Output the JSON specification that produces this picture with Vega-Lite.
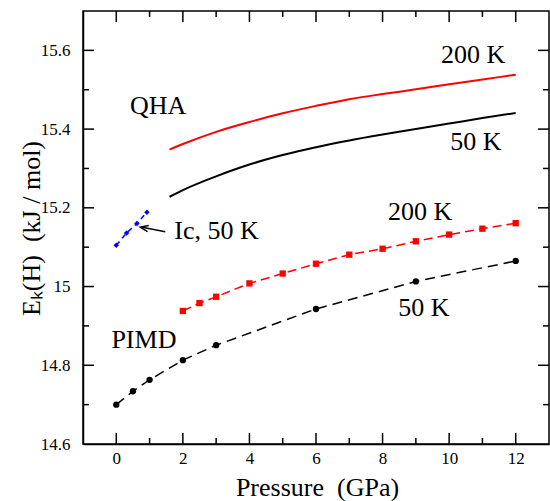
{
  "$schema": "https://vega.github.io/schema/vega-lite/v6.json",
  "background": "white",
  "padding": {"left": 17, "top": 10, "right": 0, "bottom": 0},
  "config": {
    "view": {"stroke": "black", "strokeWidth": 1.5},
    "font": "Liberation Serif",
    "axis": {
      "labelColor": "black",
      "labelFont": "Liberation Serif",
      "labelFontSize": 17,
      "labelFlush": false,
      "labelOverlap": false,
      "titleColor": "black",
      "titleFont": "Liberation Serif",
      "titleFontSize": 26,
      "titleFontWeight": "normal"
    }
  },
  "datasets": {
    "curves": [
      {"s": "QHA200", "p": 1.6, "e": 15.348},
      {"s": "QHA200", "p": 2, "e": 15.362},
      {"s": "QHA200", "p": 3, "e": 15.393},
      {"s": "QHA200", "p": 4, "e": 15.418},
      {"s": "QHA200", "p": 5, "e": 15.440},
      {"s": "QHA200", "p": 6, "e": 15.459},
      {"s": "QHA200", "p": 7, "e": 15.476},
      {"s": "QHA200", "p": 8, "e": 15.489},
      {"s": "QHA200", "p": 9, "e": 15.501},
      {"s": "QHA200", "p": 10, "e": 15.514},
      {"s": "QHA200", "p": 11, "e": 15.526},
      {"s": "QHA200", "p": 12, "e": 15.538},
      {"s": "QHA50", "p": 1.6, "e": 15.228},
      {"s": "QHA50", "p": 2, "e": 15.245},
      {"s": "QHA50", "p": 3, "e": 15.280},
      {"s": "QHA50", "p": 4, "e": 15.310},
      {"s": "QHA50", "p": 5, "e": 15.334},
      {"s": "QHA50", "p": 6, "e": 15.354},
      {"s": "QHA50", "p": 7, "e": 15.371},
      {"s": "QHA50", "p": 8, "e": 15.386},
      {"s": "QHA50", "p": 9, "e": 15.400},
      {"s": "QHA50", "p": 10, "e": 15.414},
      {"s": "QHA50", "p": 11, "e": 15.428},
      {"s": "QHA50", "p": 12, "e": 15.441},
      {"s": "PIMD50", "p": 0, "e": 14.700},
      {"s": "PIMD50", "p": 0.5, "e": 14.734},
      {"s": "PIMD50", "p": 1, "e": 14.763},
      {"s": "PIMD50", "p": 2, "e": 14.813},
      {"s": "PIMD50", "p": 3, "e": 14.851},
      {"s": "PIMD50", "p": 6, "e": 14.943},
      {"s": "PIMD50", "p": 9, "e": 15.013},
      {"s": "PIMD50", "p": 12, "e": 15.065},
      {"s": "PIMD200", "p": 2, "e": 14.938},
      {"s": "PIMD200", "p": 2.5, "e": 14.958},
      {"s": "PIMD200", "p": 3, "e": 14.974},
      {"s": "PIMD200", "p": 4, "e": 15.008},
      {"s": "PIMD200", "p": 5, "e": 15.033},
      {"s": "PIMD200", "p": 6, "e": 15.058},
      {"s": "PIMD200", "p": 7, "e": 15.081},
      {"s": "PIMD200", "p": 8, "e": 15.096},
      {"s": "PIMD200", "p": 9, "e": 15.115},
      {"s": "PIMD200", "p": 10, "e": 15.132},
      {"s": "PIMD200", "p": 11, "e": 15.147},
      {"s": "PIMD200", "p": 12, "e": 15.161},
      {"s": "Ic50", "p": 0, "e": 15.105},
      {"s": "Ic50", "p": 0.31, "e": 15.136},
      {"s": "Ic50", "p": 0.62, "e": 15.160},
      {"s": "Ic50", "p": 0.92, "e": 15.189}
    ],
    "xticks": [
      {"v": 0, "m": "major"}, {"v": 1, "m": "minor"}, {"v": 2, "m": "major"}, {"v": 3, "m": "minor"},
      {"v": 4, "m": "major"}, {"v": 5, "m": "minor"}, {"v": 6, "m": "major"}, {"v": 7, "m": "minor"},
      {"v": 8, "m": "major"}, {"v": 9, "m": "minor"}, {"v": 10, "m": "major"}, {"v": 11, "m": "minor"},
      {"v": 12, "m": "major"}
    ],
    "yticks": [
      {"v": 14.7, "m": "minor"}, {"v": 14.8, "m": "major"}, {"v": 14.9, "m": "minor"}, {"v": 15.0, "m": "major"},
      {"v": 15.1, "m": "minor"}, {"v": 15.2, "m": "major"}, {"v": 15.3, "m": "minor"}, {"v": 15.4, "m": "major"},
      {"v": 15.5, "m": "minor"}, {"v": 15.6, "m": "major"}
    ],
    "labels": [
      {"t": "QHA", "p": 1.26, "e": 15.438},
      {"t": "200 K", "p": 10.72, "e": 15.568},
      {"t": "50 K", "p": 10.8, "e": 15.346},
      {"t": "Ic, 50 K", "p": 3.01, "e": 15.12},
      {"t": "200 K", "p": 9.13, "e": 15.168},
      {"t": "50 K", "p": 9.24, "e": 14.924},
      {"t": "PIMD", "p": 0.83, "e": 14.845}
    ],
    "arrow": [
      {"p": 1.47, "e": 15.139, "p2": 0.74, "e2": 15.151}
    ],
    "arrowhead": [
      {"p": 0.72, "e": 15.151}
    ]
  },
  "vconcat": [
    {
      "width": 466,
      "height": 433,
      "resolve": {"axis": {"x": "independent", "y": "independent"}},
      "layer": [
        {
          "data": {"name": "curves"},
          "transform": [{"filter": "datum.s === 'QHA200'"}],
          "mark": {"type": "line", "color": "#ff0000", "strokeWidth": 2, "interpolate": "monotone"},
          "encoding": {
            "x": {"field": "p", "type": "quantitative", "scale": {"domain": [-1, 13], "nice": false, "zero": false},
              "axis": {"orient": "bottom", "values": [0, 2, 4, 6, 8, 10, 12], "ticks": false, "labelPadding": 6,
                "domain": true, "domainColor": "black", "domainWidth": 1.5, "grid": false,
                "title": "Pressure\u00a0 (GPa)", "titleX": 234, "titleY": 51, "titleAlign": "center", "titleBaseline": "alphabetic"}},
            "y": {"field": "e", "type": "quantitative", "scale": {"domain": [14.6, 15.7], "nice": false, "zero": false},
              "axis": {"orient": "left", "values": [14.6, 14.8, 15, 15.2, 15.4, 15.6], "labelExpr": "format(datum.value, '~g')",
                "ticks": false, "labelPadding": 13,
                "domain": true, "domainColor": "black", "domainWidth": 1.5, "grid": false,
                "title": "E\u2096(H)\u00a0 (kJ / mol)", "titleAngle": -90, "titleX": -44, "titleY": 217, "titleAlign": "center", "titleBaseline": "alphabetic"}}
          }
        },
        {
          "data": {"name": "curves"},
          "transform": [{"filter": "datum.s === 'QHA50'"}],
          "mark": {"type": "line", "color": "black", "strokeWidth": 2, "interpolate": "monotone"},
          "encoding": {
            "x": {"field": "p", "type": "quantitative", "axis": null},
            "y": {"field": "e", "type": "quantitative", "axis": null}
          }
        },
        {
          "data": {"name": "curves"},
          "transform": [{"filter": "datum.s === 'PIMD50'"}],
          "mark": {"type": "line", "color": "black", "strokeWidth": 1.5, "strokeDash": [10, 6]},
          "encoding": {
            "x": {"field": "p", "type": "quantitative", "axis": null},
            "y": {"field": "e", "type": "quantitative", "axis": null}
          }
        },
        {
          "data": {"name": "curves"},
          "transform": [{"filter": "datum.s === 'PIMD200'"}],
          "mark": {"type": "line", "color": "#ff0000", "strokeWidth": 1.5, "strokeDash": [9, 5]},
          "encoding": {
            "x": {"field": "p", "type": "quantitative", "axis": null},
            "y": {"field": "e", "type": "quantitative", "axis": null}
          }
        },
        {
          "data": {"name": "curves"},
          "transform": [{"filter": "datum.s === 'Ic50'"}],
          "mark": {"type": "line", "color": "#0000ff", "strokeWidth": 1.5, "strokeDash": [5, 4]},
          "encoding": {
            "x": {"field": "p", "type": "quantitative", "axis": null},
            "y": {"field": "e", "type": "quantitative", "axis": null}
          }
        },
        {
          "data": {"name": "curves"},
          "transform": [{"filter": "datum.s === 'PIMD50'"}],
          "mark": {"type": "point", "shape": "circle", "filled": true, "color": "black", "size": 40, "opacity": 1},
          "encoding": {
            "x": {"field": "p", "type": "quantitative", "axis": null},
            "y": {"field": "e", "type": "quantitative", "axis": null}
          }
        },
        {
          "data": {"name": "curves"},
          "transform": [{"filter": "datum.s === 'PIMD200'"}],
          "mark": {"type": "point", "shape": "square", "filled": true, "color": "#ff0000", "size": 40, "opacity": 1},
          "encoding": {
            "x": {"field": "p", "type": "quantitative", "axis": null},
            "y": {"field": "e", "type": "quantitative", "axis": null}
          }
        },
        {
          "data": {"name": "curves"},
          "transform": [{"filter": "datum.s === 'Ic50'"}],
          "mark": {"type": "point", "shape": "diamond", "filled": true, "color": "#0000ff", "size": 30, "opacity": 1},
          "encoding": {
            "x": {"field": "p", "type": "quantitative", "axis": null},
            "y": {"field": "e", "type": "quantitative", "axis": null}
          }
        },
        {
          "data": {"name": "xticks"},
          "transform": [{"filter": "datum.m === 'major'"}],
          "mark": {"type": "tick", "orient": "vertical", "color": "black", "size": 11, "thickness": 1.5, "yOffset": -5.5, "opacity": 1},
          "encoding": {
            "x": {"field": "v", "type": "quantitative", "axis": null},
            "y": {"datum": 14.6, "type": "quantitative", "axis": null}
          }
        },
        {
          "data": {"name": "xticks"},
          "transform": [{"filter": "datum.m === 'minor'"}],
          "mark": {"type": "tick", "orient": "vertical", "color": "black", "size": 6, "thickness": 1.5, "yOffset": -3, "opacity": 1},
          "encoding": {
            "x": {"field": "v", "type": "quantitative", "axis": null},
            "y": {"datum": 14.6, "type": "quantitative", "axis": null}
          }
        },
        {
          "data": {"name": "xticks"},
          "transform": [{"filter": "datum.m === 'major'"}],
          "mark": {"type": "tick", "orient": "vertical", "color": "black", "size": 11, "thickness": 1.5, "yOffset": 5.5, "opacity": 1},
          "encoding": {
            "x": {"field": "v", "type": "quantitative", "axis": null},
            "y": {"datum": 15.7, "type": "quantitative", "axis": null}
          }
        },
        {
          "data": {"name": "xticks"},
          "transform": [{"filter": "datum.m === 'minor'"}],
          "mark": {"type": "tick", "orient": "vertical", "color": "black", "size": 6, "thickness": 1.5, "yOffset": 3, "opacity": 1},
          "encoding": {
            "x": {"field": "v", "type": "quantitative", "axis": null},
            "y": {"datum": 15.7, "type": "quantitative", "axis": null}
          }
        },
        {
          "data": {"name": "yticks"},
          "transform": [{"filter": "datum.m === 'major'"}],
          "mark": {"type": "tick", "orient": "horizontal", "color": "black", "size": 11, "thickness": 1.5, "xOffset": 5.5, "opacity": 1},
          "encoding": {
            "x": {"datum": -1, "type": "quantitative", "axis": null},
            "y": {"field": "v", "type": "quantitative", "axis": null}
          }
        },
        {
          "data": {"name": "yticks"},
          "transform": [{"filter": "datum.m === 'minor'"}],
          "mark": {"type": "tick", "orient": "horizontal", "color": "black", "size": 6, "thickness": 1.5, "xOffset": 3, "opacity": 1},
          "encoding": {
            "x": {"datum": -1, "type": "quantitative", "axis": null},
            "y": {"field": "v", "type": "quantitative", "axis": null}
          }
        },
        {
          "data": {"name": "yticks"},
          "transform": [{"filter": "datum.m === 'major'"}],
          "mark": {"type": "tick", "orient": "horizontal", "color": "black", "size": 11, "thickness": 1.5, "xOffset": -5.5, "opacity": 1},
          "encoding": {
            "x": {"datum": 13, "type": "quantitative", "axis": null},
            "y": {"field": "v", "type": "quantitative", "axis": null}
          }
        },
        {
          "data": {"name": "yticks"},
          "transform": [{"filter": "datum.m === 'minor'"}],
          "mark": {"type": "tick", "orient": "horizontal", "color": "black", "size": 6, "thickness": 1.5, "xOffset": -3, "opacity": 1},
          "encoding": {
            "x": {"datum": 13, "type": "quantitative", "axis": null},
            "y": {"field": "v", "type": "quantitative", "axis": null}
          }
        },
        {
          "data": {"name": "arrow"},
          "mark": {"type": "rule", "color": "black", "strokeWidth": 1.5},
          "encoding": {
            "x": {"field": "p", "type": "quantitative", "axis": null},
            "y": {"field": "e", "type": "quantitative", "axis": null},
            "x2": {"field": "p2"},
            "y2": {"field": "e2"}
          }
        },
        {
          "data": {"name": "arrowhead"},
          "mark": {"type": "point", "shape": "M 2 -0.8 L 0 0 L 2 0.8", "filled": false, "color": "black", "strokeWidth": 1.5, "size": 64, "angle": 10.6, "opacity": 1},
          "encoding": {
            "x": {"field": "p", "type": "quantitative", "axis": null},
            "y": {"field": "e", "type": "quantitative", "axis": null}
          }
        },
        {
          "data": {"name": "labels"},
          "mark": {"type": "text", "font": "Liberation Serif", "fontSize": 26, "color": "black", "align": "center", "baseline": "alphabetic"},
          "encoding": {
            "x": {"field": "p", "type": "quantitative", "axis": null},
            "y": {"field": "e", "type": "quantitative", "axis": null},
            "text": {"field": "t"}
          }
        }
      ]
    }
  ]
}
